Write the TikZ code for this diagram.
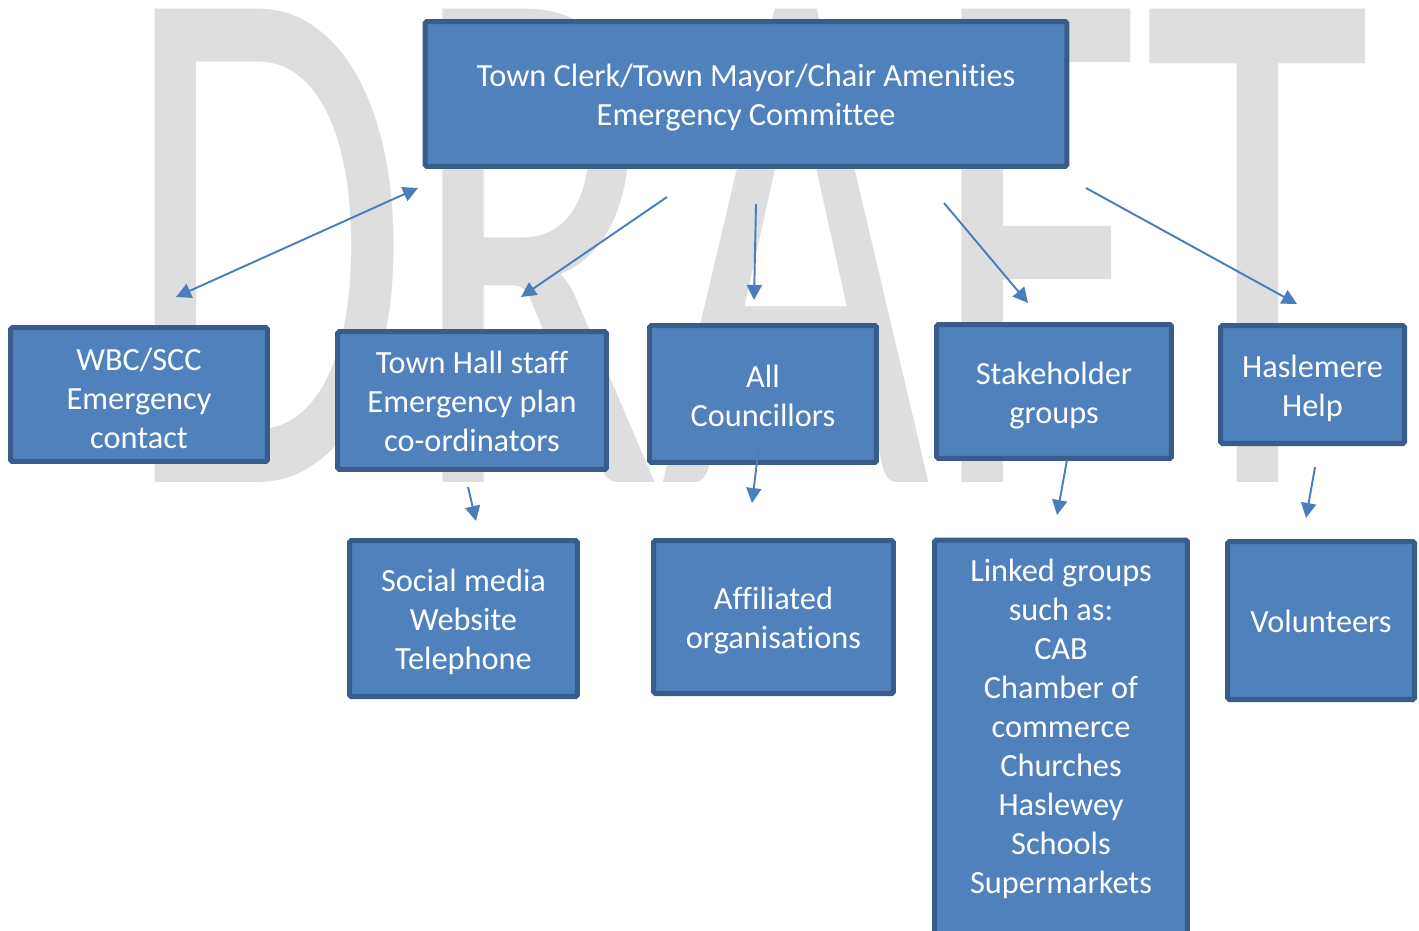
\documentclass[tikz,border=0pt]{standalone}
\usepackage{fontspec}
\setmainfont{Carlito}[Ligatures=NoCommon]
\usepackage{graphicx}
\usetikzlibrary{arrows.meta}

\definecolor{boxfill}{RGB}{79,129,189}
\definecolor{boxline}{RGB}{56,93,138}
\definecolor{arrowblue}{RGB}{74,126,187}
\definecolor{draftgray}{RGB}{222,222,222}

\begin{document}
\begin{tikzpicture}[x=0.02cm,y=-0.02cm,>={Triangle[length=0.3cm,width=0.3cm]},
  box node/.style={rectangle,draw=boxline,fill=boxfill,line width=2.85pt,rounded corners=1pt,
    text=white,align=flush center,inner xsep=0pt,text height=17pt,
    font=\fontsize{18.4pt}{22.2pt}\selectfont},
  link/.style={arrowblue,line width=1.1pt}]

  \useasboundingbox (0,0) rectangle (1419,930);

  % watermark
  \node[anchor=base west,inner sep=0,text=draftgray,font=\fontsize{420pt}{420pt}\selectfont]
    (draft) at (123,482) {\scalebox{0.63}[1]{DRAFT}};

  \node[box node,text width=12.84cm,minimum height=2.90cm] (1) at (746,94)
    {Town Clerk/Town Mayor/Chair Amenities\\Emergency Committee};

  \node[box node,text width=5.14cm,minimum height=2.68cm] (2) at (139,394.5) {WBC/SCC\\Emergency\\contact};
  \node[box node,text width=5.38cm,minimum height=2.76cm,text height=14.2pt] (3) at (472,400.5) {Town Hall staff\\Emergency plan\\co-ordinators};
  \node[box node,text width=4.54cm,minimum height=2.74cm,text height=14.7pt] (4) at (763,394) {All\\Councillors};
  \node[box node,text width=4.70cm,minimum height=2.68cm] (5) at (1054,391.5) {Stakeholder\\groups};
  \node[box node,text width=3.68cm,minimum height=2.36cm] (6) at (1312.5,384.5) {Haslemere\\Help};

  \node[box node,text width=4.56cm,minimum height=3.12cm] (7) at (463.5,618.5) {Social media\\Website\\Telephone};
  \node[box node,text width=4.80cm,minimum height=3.06cm] (8) at (773.5,617) {Affiliated\\organisations};
  \node[box node,anchor=north,inner sep=0,text width=5.06cm,
    text height=0.83cm,text depth=10cm] (9) at (1061,537.5)
    {Linked groups\\such as:\\CAB\\Chamber of\\commerce\\Churches\\Haslewey\\Schools\\Supermarkets};
  \node[box node,text width=3.74cm,minimum height=3.16cm,text height=13.6pt] (10) at (1321,620.5) {Volunteers};

  % loose arrow ends
  \coordinate (1a) at (418,188);  \coordinate (2a) at (176,297);
  \coordinate (1b) at (667,197);  \coordinate (3a) at (521,297);
  \coordinate (1c) at (756,204);  \coordinate (4a) at (754,300);
  \coordinate (1d) at (944,203);  \coordinate (5a) at (1028,303);
  \coordinate (1e) at (1086,188); \coordinate (6a) at (1297,304);
  \coordinate (3b) at (468,487);  \coordinate (7a) at (476,521);
  \coordinate (4b) at (759,445);  \coordinate (8a) at (752,503);
  \coordinate (5b) at (1067,460); \coordinate (9a) at (1057,515);
  \coordinate (6b) at (1315,467); \coordinate (10a) at (1306,518);

  \draw[link,<->] (1a) -- (2a);
  \draw[link,->] (1b) -- (3a);
  \draw[link,->] (1c) -- (4a);
  \draw[link,->] (1d) -- (5a);
  \draw[link,->] (1e) -- (6a);
  \draw[link,->] (3b) -- (7a);
  \draw[link,->] (4b) -- (8a);
  \draw[link,->] (5b) -- (9a);
  \draw[link,->] (6b) -- (10a);
\end{tikzpicture}
\end{document}
